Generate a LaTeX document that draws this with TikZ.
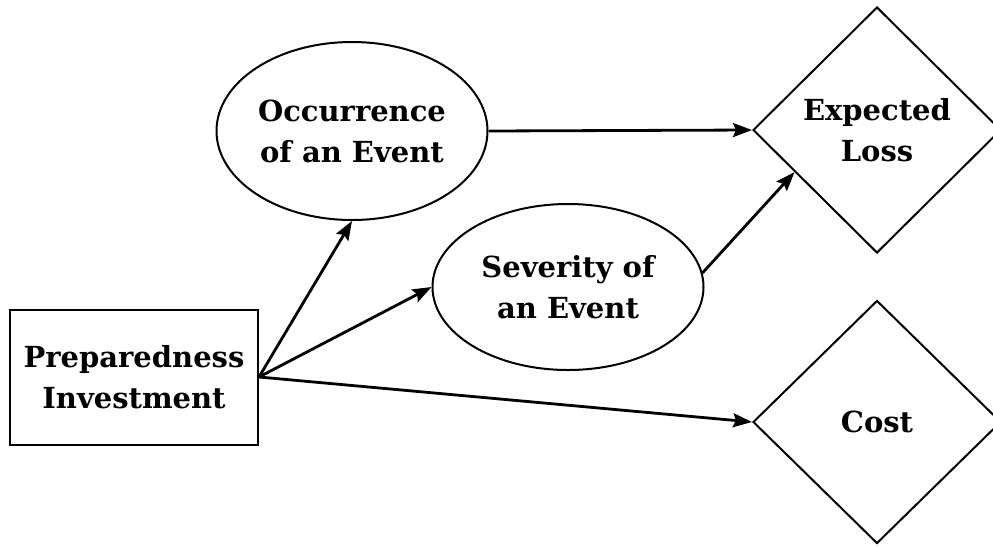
\documentclass[tikz,border=0pt]{standalone}
\usepackage{fontspec}
\usetikzlibrary{shapes.geometric,arrows.meta,calc}
\newfontfamily\labfont{DejaVu Serif}
\begin{document}
\begin{tikzpicture}[x=1pt,y=-1pt,
  lab/.style={font=\labfont\bfseries\fontsize{29}{41}\selectfont, align=center, inner sep=0pt},
  shapeline/.style={draw, line width=2pt},
  boxnode/.style={lab, shapeline, rectangle, minimum width=248pt, minimum height=135pt},
  ovalnode/.style={lab, shapeline, ellipse, minimum width=271pt, minimum height=178pt},
  decnode/.style={lab, shapeline, diamond, aspect=1, minimum width=248pt, minimum height=246pt},
  link/.style={line width=2.8pt, -{Stealth[length=19pt,width=14pt,inset=3pt]}}
]
\useasboundingbox (0,0) rectangle (993,547);

\node[boxnode] (prep) at (134,377) {Preparedness\\Investment};
\node[ovalnode] (occ) at (352,131) {Occurrence\\of an Event};
\node[ovalnode, minimum height=166pt] (sev) at (568,287) {Severity of\\an Event};
\node[decnode] (loss) at (877,130) {Expected\\Loss};
\node[decnode, minimum height=243pt] (cost) at (877,422) {Cost};

\coordinate (lossedge) at ($(loss.west)!0.34!(loss.south)$);

\draw[link] (prep.east) -- (occ.south);
\draw[link] (prep.east) -- (sev.west);
\draw[link] (prep.east) -- (cost.west);
\draw[link] (occ.east) -- (loss.west);
\draw[link] (sev.6) -- (lossedge);
\end{tikzpicture}
\end{document}
